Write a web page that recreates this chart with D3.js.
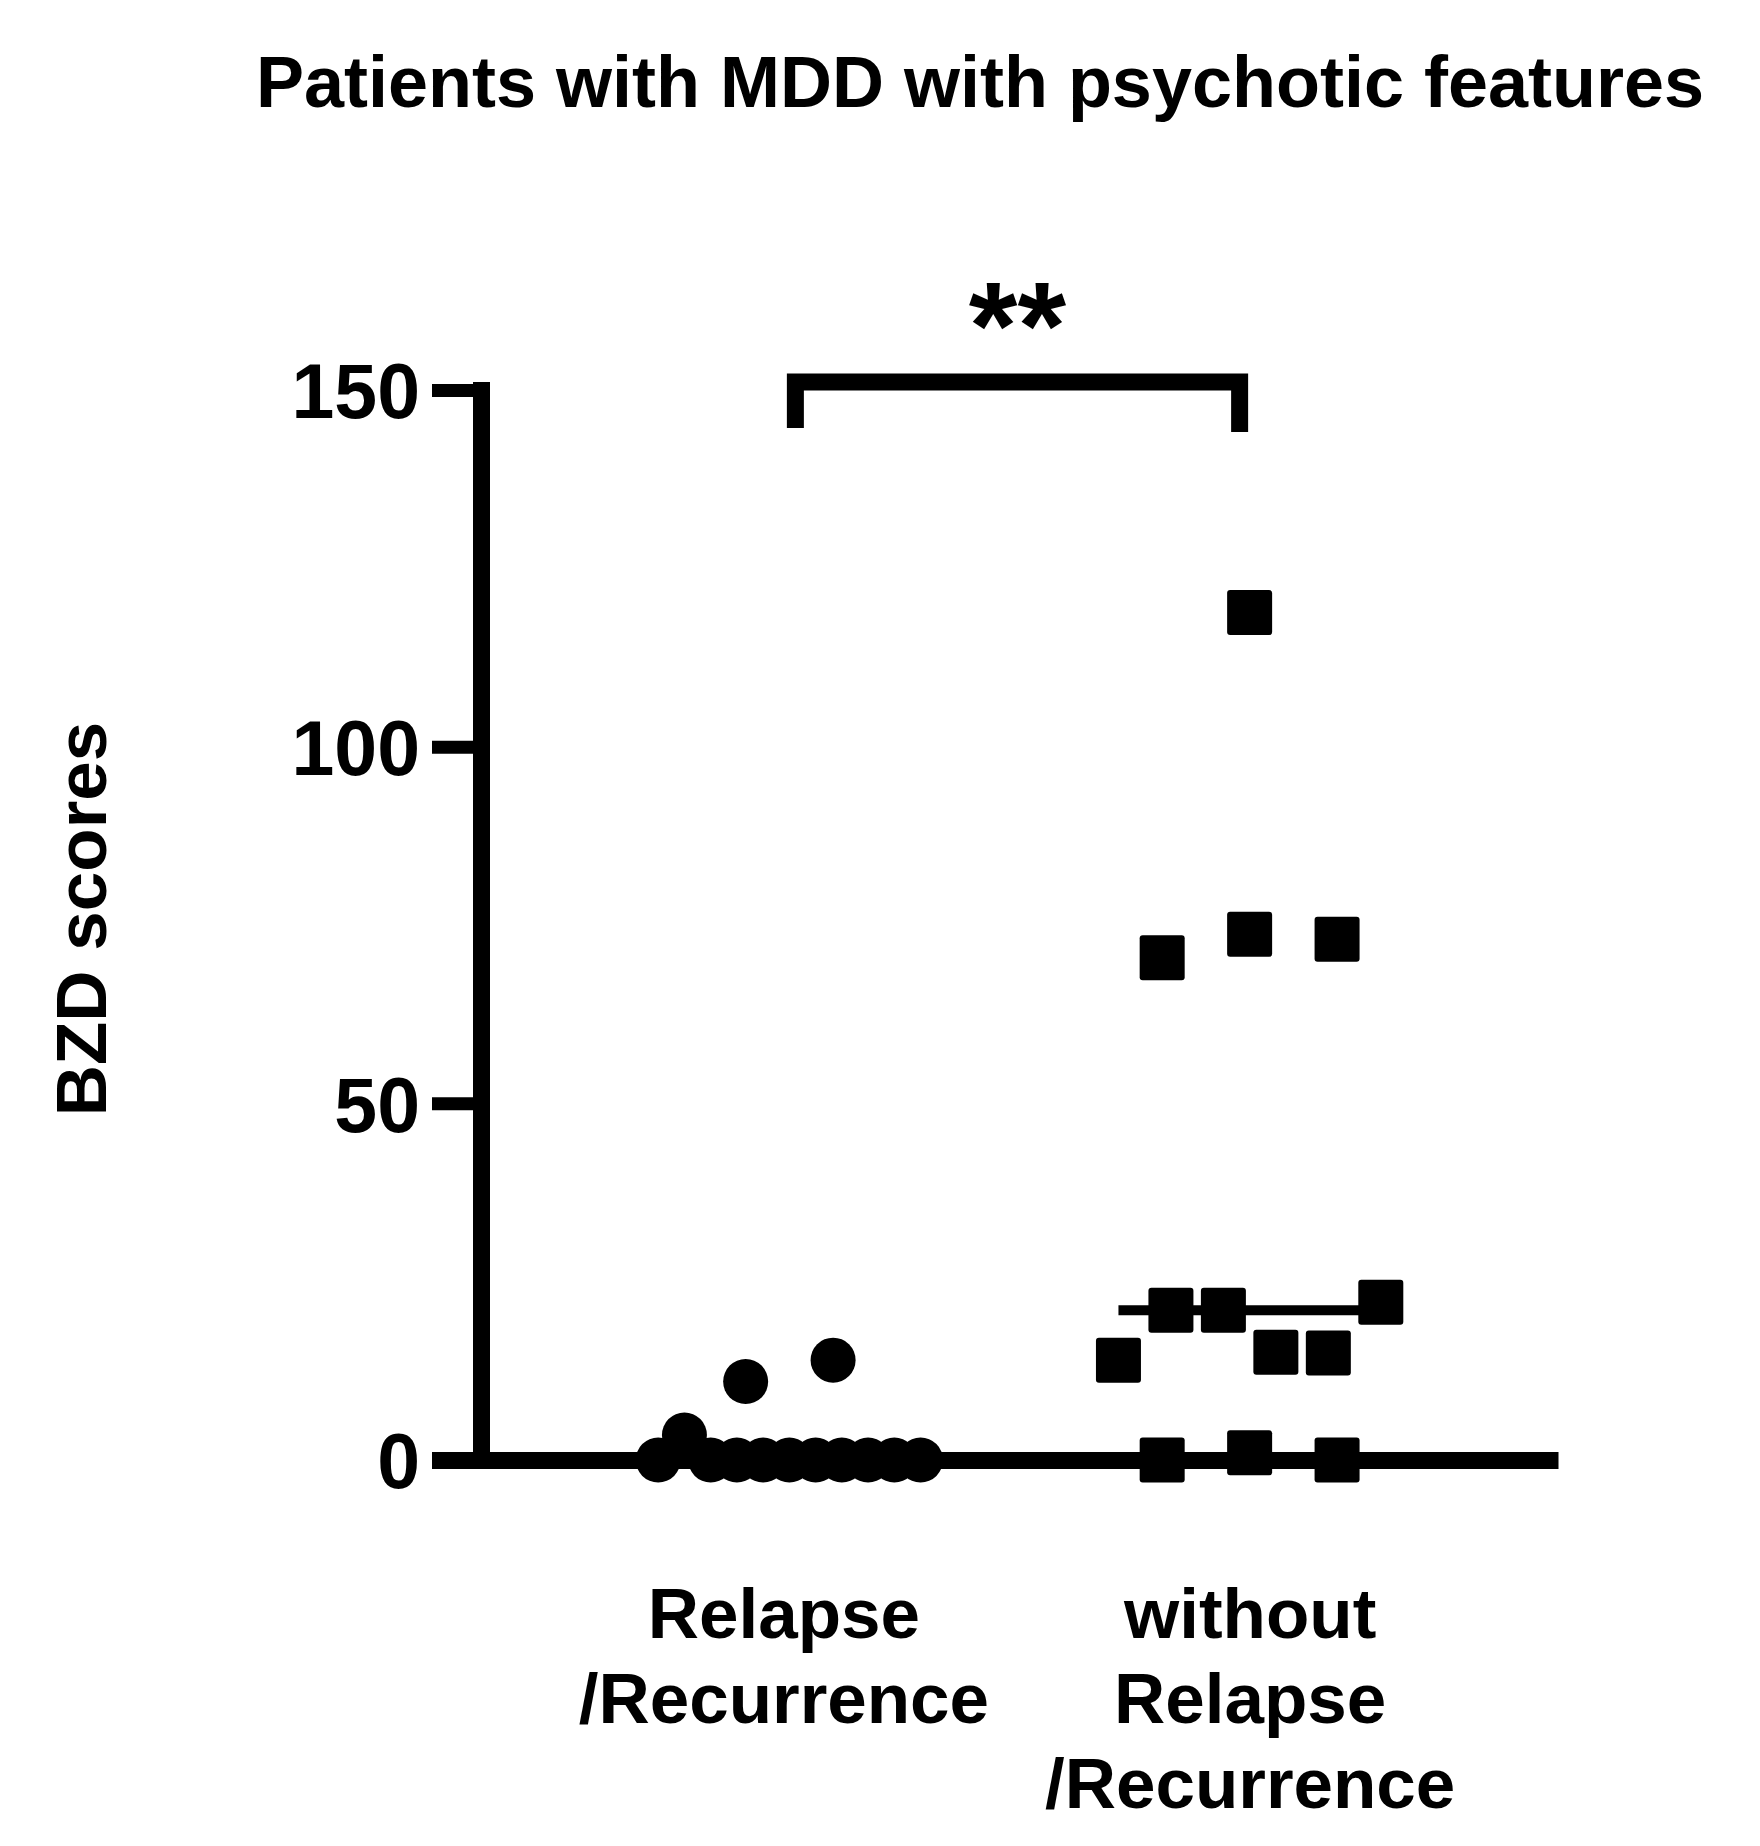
<!DOCTYPE html>
<html>
<head>
<meta charset="utf-8">
<script src="https://cdn.jsdelivr.net/npm/d3@7"></script>
<style>
    html, body { margin: 0; padding: 0; background: #fff; }
    svg text { font-family: "Liberation Sans", Arial, Helvetica, sans-serif; font-weight: bold; fill: #000; }
</style>
</head>
<body>
<svg id="chart" width="1760" height="1846"></svg>
<script>
const groups = ['relapse', 'noRelapse'];
const groupLabels = [['Relapse', '/Recurrence'], ['without', 'Relapse', '/Recurrence']];
const relapseScores = [0, 3.5, 0, 0, 0, 0, 0, 0, 0, 0, 0, 11.0, 14.0];
const noRelapseScores = [0, 1.0, 0, 14.0, 21.0, 21.0, 15.1, 15.0, 22.1, 70.4, 73.7, 73.0, 118.8];
const yTicks = [0, 50, 100, 150];
const chartTitle = 'Patients with MDD with psychotic features';
const yTitle = 'BZD scores';
const significance = '**';

const svg = d3.select('#chart');
const symbolSize = 45;

let y = d3.scaleLinear().domain([0, 150]).range([1460, 390]);
let x = d3.scalePoint().domain(groups).range([481, 1558]).padding(0.67);

let colHalf = x.step() * 0.285;

svg.append('rect').attr('width', 1760).attr('height', 1846).attr('fill', '#fff');

// title
svg.append('text')
    .attr('x', 980)
    .attr('y', 107)
    .attr('text-anchor', 'middle')
    .attr('font-size', 72)
    .text(chartTitle);

// y axis title
svg.append('text')
    .attr('transform', 'translate(106,919) rotate(-90)')
    .attr('text-anchor', 'middle')
    .attr('font-size', 71)
    .text(yTitle);

// y axis
let yAxis = svg.append('g')
    .attr('transform', 'translate(481,0)')
    .call(d3.axisLeft(y).tickValues(yTicks).tickSize(49).tickSizeOuter(0).tickPadding(12));

yAxis.select('.domain')
    .attr('stroke', '#000')
    .attr('stroke-width', 17)
    .attr('stroke-linecap', 'square');
yAxis.selectAll('.tick line')
    .attr('stroke', '#000')
    .attr('stroke-width', d => d === 0 ? 17 : 13);
yAxis.selectAll('.tick text')
    .attr('font-size', 77)
    .attr('dy', '0.36em');

// x axis
let xAxis = svg.append('g')
    .attr('transform', 'translate(0,' + y(0) + ')')
    .call(d3.axisBottom(x).tickSize(0).tickSizeOuter(0));

xAxis.select('.domain')
    .attr('stroke', '#000')
    .attr('stroke-width', 17);

xAxis.selectAll('.tick text').each(function(d, i) {
    let t = d3.select(this).text(null).attr('y', 178).attr('dy', 0).attr('font-size', 71);
    groupLabels[i].forEach(function(line, k) {
        t.append('tspan').attr('x', i === 0 ? -6 : 0).attr('y', 178 + k * 85).text(line);
    });
});

// spread points of close values side by side, like a column scatter
function spreadColumn(values, cx) {
    let order = d3.range(values.length).sort((a, b) => values[a] - values[b]);
    let bins = [], cur = [order[0]];
    for (let i = 1; i < order.length; i++) {
        let prev = cur[cur.length - 1];
        if (y(values[prev]) - y(values[order[i]]) < symbolSize) {
            cur.push(order[i]);
        } else {
            bins.push(cur);
            cur = [order[i]];
        }
    }
    bins.push(cur);

    let xs = [];
    bins.forEach(function(bin) {
        bin.sort((a, b) => a - b);
        let n = bin.length;
        let gap = n > 1 ? Math.min(colHalf * 2 / 3, colHalf * 2 / (n - 1)) : 0;
        bin.forEach(function(k, i) {
            xs[k] = cx + (i - (n - 1) / 2) * gap;
        });
    });
    return values.map((v, k) => ({ value: v, x: xs[k] }));
}

let relapsePoints = spreadColumn(relapseScores, x('relapse'));
let noRelapsePoints = spreadColumn(noRelapseScores, x('noRelapse'));

// medians
[[relapseScores, 'relapse'], [noRelapseScores, 'noRelapse']].forEach(function(pair) {
    let m = d3.median(pair[0]);
    svg.append('line')
        .attr('x1', x(pair[1]) - colHalf)
        .attr('x2', x(pair[1]) + colHalf)
        .attr('y1', y(m))
        .attr('y2', y(m))
        .attr('stroke', '#000')
        .attr('stroke-width', 10);
});

svg.append('g').selectAll('circle')
    .data(relapsePoints)
    .join('circle')
    .attr('cx', d => d.x)
    .attr('cy', d => y(d.value))
    .attr('r', symbolSize / 2)
    .attr('fill', '#000');

svg.append('g').selectAll('rect')
    .data(noRelapsePoints)
    .join('rect')
    .attr('x', d => d.x - symbolSize / 2)
    .attr('y', d => y(d.value) - symbolSize / 2)
    .attr('width', symbolSize)
    .attr('height', symbolSize)
    .attr('rx', 3)
    .attr('fill', '#000');

// significance bracket
let bx0 = x('relapse') + 6,
    bx1 = x('noRelapse') - 10,
    bTop = y(150) - 8,
    bLeg = y(150) + 38;

svg.append('path')
    .attr('d', d3.line()([[bx0, bLeg], [bx0, bTop], [bx1, bTop], [bx1, bLeg + 4]]))
    .attr('fill', 'none')
    .attr('stroke', '#000')
    .attr('stroke-width', 17)
    .attr('stroke-linejoin', 'miter');

svg.append('text')
    .attr('x', (bx0 + bx1) / 2)
    .attr('y', 369)
    .attr('text-anchor', 'middle')
    .attr('font-size', 125)
    .text(significance);
</script>
</body>
</html>
